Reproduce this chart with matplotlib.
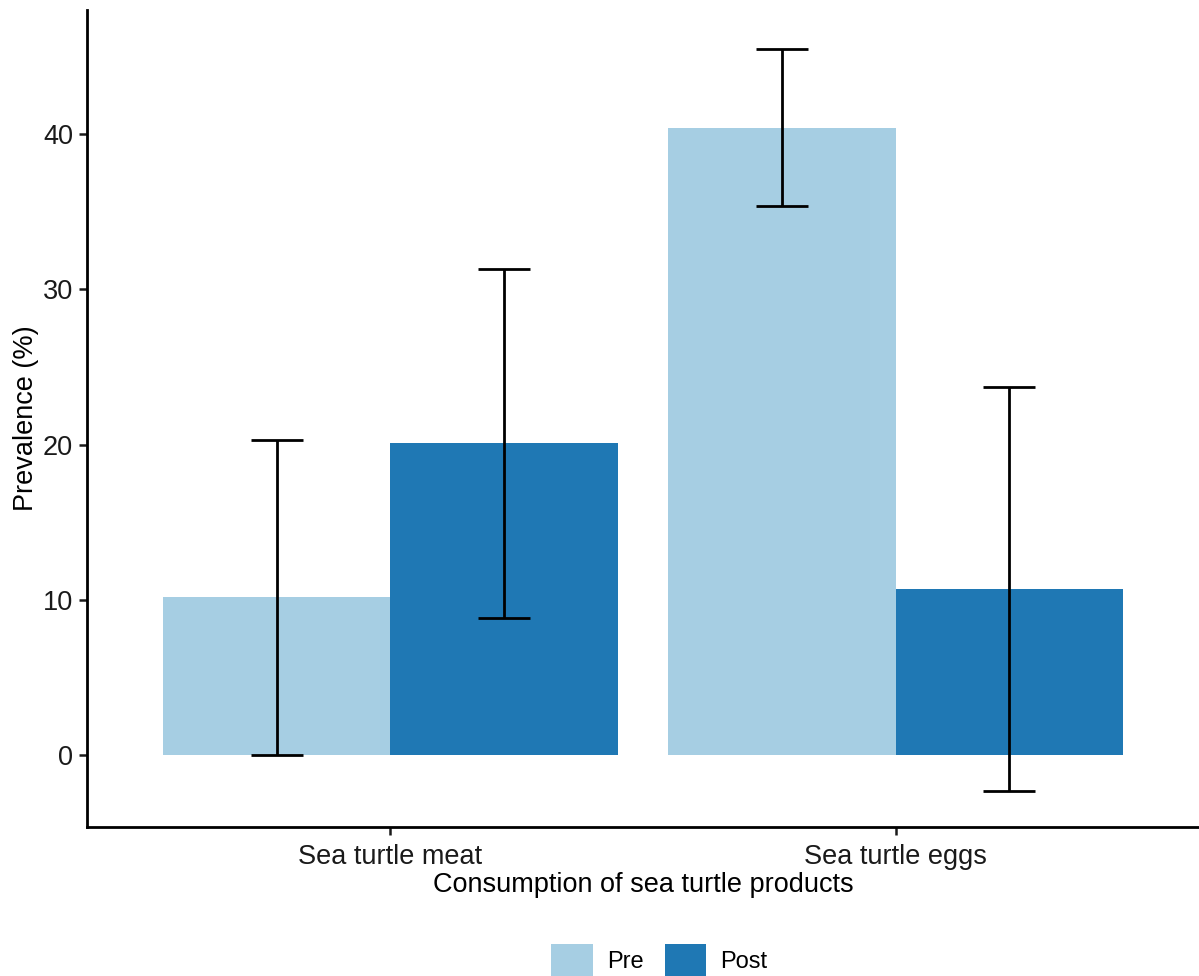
import matplotlib.pyplot as plt
import numpy as np

plt.rcParams['font.family'] = ['Liberation Sans', 'DejaVu Sans']

categories = ['Sea turtle meat', 'Sea turtle eggs']
groups = ['Pre', 'Post']
values = {'Pre': [10.2, 40.4], 'Post': [20.1, 10.7]}
lower = {'Pre': [0.0, 35.4], 'Post': [8.8, -2.3]}
upper = {'Pre': [20.3, 45.5], 'Post': [31.3, 23.7]}
colors = {'Pre': '#A6CEE3', 'Post': '#1F78B4'}

fig = plt.figure(figsize=(11.99, 9.76), dpi=100)
ax = fig.add_axes([87 / 1199, 1 - 827 / 976, 1 - 87 / 1199, (827 - 10) / 976])

x = np.arange(1, len(categories) + 1)
w = 0.45
for i, g in enumerate(groups):
    pos = x + (i - 0.5) * w
    ax.bar(pos, values[g], width=w, color=colors[g], label=g, zorder=1)
    v = np.array(values[g])
    err = [v - np.array(lower[g]), np.array(upper[g]) - v]
    ax.errorbar(pos, v, yerr=err, fmt='none', ecolor='black', elinewidth=2,
                capsize=19, capthick=2, zorder=2)

ax.set_xlim(0.4, 2.6)
ax.set_ylim(-4.64, 48.0)
ax.set_xticks(x)
ax.set_xticklabels(categories)
ax.set_yticks([0, 10, 20, 30, 40])
ax.tick_params(labelsize=19.5, colors='#1a1a1a', width=1.8, length=6, pad=4)
ax.tick_params(axis='x', pad=6)
ax.set_xlabel('Consumption of sea turtle products', fontsize=19.5, labelpad=2)
ax.set_ylabel('Prevalence (%)', fontsize=19.5, labelpad=3)
for s in ['top', 'right']:
    ax.spines[s].set_visible(False)
for s in ['left', 'bottom']:
    ax.spines[s].set_linewidth(2)

fig.legend(loc='center', bbox_to_anchor=(0.55, 0.016), ncol=2, frameon=False,
           fontsize=17, handlelength=1.75, handleheight=1.75, columnspacing=0.9,
           handletextpad=0.6)

plt.savefig('out.png', dpi=100)
plt.close()
